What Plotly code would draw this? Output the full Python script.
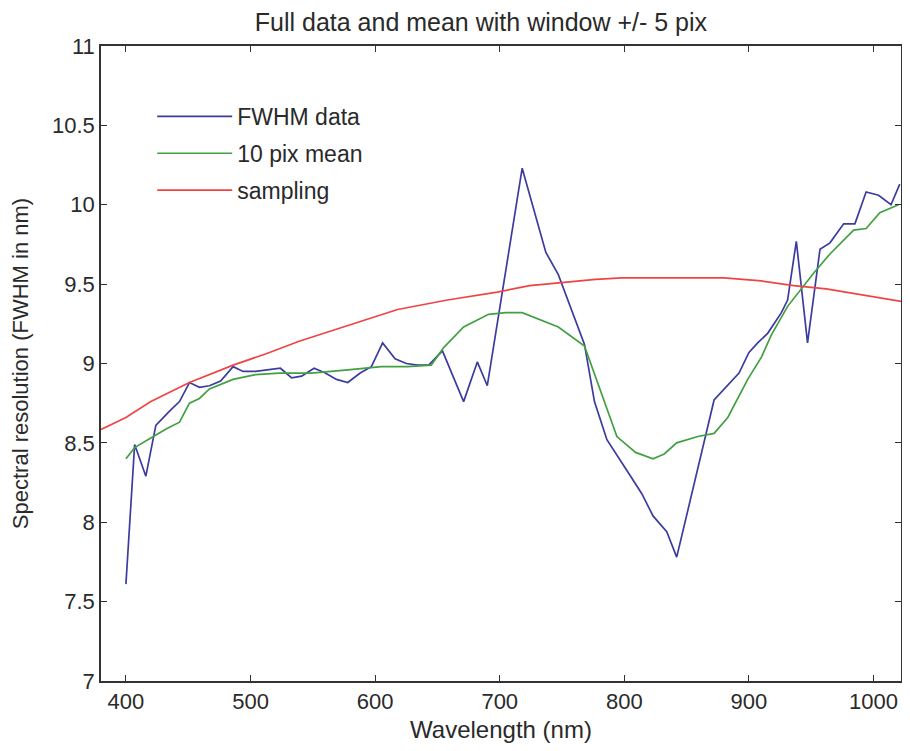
import plotly.graph_objects as go

fwhm_x = [400, 407, 416, 424, 435, 443, 451, 459, 467, 476, 486, 494, 504, 515, 524, 533, 541, 551, 560, 569,
          578, 588, 597, 606, 616, 625, 634, 643, 654, 671, 682, 690, 718, 737, 747, 768, 776, 786, 797, 805,
          814, 823, 834, 842, 872, 883, 892, 900, 907, 915, 926, 931, 938, 947, 957, 965, 976, 985, 994, 1004,
          1014, 1021]
fwhm_y = [7.61, 8.49, 8.29, 8.61, 8.70, 8.76, 8.88, 8.85, 8.86, 8.89, 8.98, 8.95, 8.95, 8.96, 8.97, 8.91, 8.92, 8.97, 8.94, 8.90,
          8.88, 8.94, 8.98, 9.13, 9.03, 9.00, 8.99, 8.99, 9.08, 8.76, 9.01, 8.86, 10.23, 9.70, 9.56, 9.12, 8.76, 8.52, 8.39, 8.29,
          8.18, 8.04, 7.94, 7.78, 8.77, 8.86, 8.94, 9.07, 9.13, 9.19, 9.32, 9.40, 9.77, 9.13, 9.72, 9.76, 9.88, 9.88, 10.08, 10.06,
          10.00, 10.13]

mean_x = [400, 407, 422, 433, 443, 451, 459, 467, 486, 504, 523, 549, 578, 605, 626, 645, 655, 671, 691, 705,
          718, 747, 768, 794, 809, 823, 832, 842, 859, 872, 883, 899, 910, 918, 931, 952, 965, 984, 994, 1005, 1020]
mean_y = [8.40, 8.47, 8.54, 8.59, 8.63, 8.75, 8.78, 8.84, 8.90, 8.93, 8.94, 8.94, 8.96, 8.98, 8.98, 8.99, 9.10, 9.23, 9.31, 9.32,
          9.32, 9.23, 9.11, 8.54, 8.44, 8.40, 8.43, 8.50, 8.54, 8.56, 8.66, 8.90, 9.04, 9.18, 9.36, 9.57, 9.69, 9.84, 9.85, 9.95, 10.00]

samp_x = [380, 400, 420, 451, 486, 512, 539, 578, 618, 658, 698, 724, 751, 777, 798, 880, 910, 936, 962, 984, 1002, 1023]
samp_y = [8.585, 8.66, 8.76, 8.88, 8.99, 9.06, 9.14, 9.24, 9.34, 9.40, 9.45, 9.49, 9.51, 9.53, 9.54, 9.54, 9.52, 9.49, 9.47, 9.44, 9.42, 9.39]

x_ticks = [400, 500, 600, 700, 800, 900, 1000]
y_ticks = [7, 7.5, 8, 8.5, 9, 9.5, 10, 10.5, 11]
y_tick_text = ["7", "7.5", "8", "8.5", "9", "9.5", "10", "10.5", "11"]

FONT = "Liberation Sans, Arial, Helvetica, sans-serif"
TXT = "#2a2a2a"
AX = "#333333"

fig = go.Figure()
fig.add_trace(go.Scatter(x=fwhm_x, y=fwhm_y, mode="lines", name="FWHM data", legendgroup="a",
                         line=dict(color="#3c3ca0", width=1.7)))
fig.add_trace(go.Scatter(x=mean_x, y=mean_y, mode="lines", name="10 pix mean", legendgroup="b",
                         line=dict(color="#42a042", width=1.7)))
fig.add_trace(go.Scatter(x=samp_x, y=samp_y, mode="lines", name="sampling", legendgroup="c",
                         line=dict(color="#f04444", width=1.7)))

# page body adds an 8px offset; figure is sized so it fits without scrollbars
fig.update_layout(
    width=894, height=735,
    margin=dict(l=93, r=1, t=38, b=62),
    paper_bgcolor="white", plot_bgcolor="white",
    font=dict(family=FONT, size=22, color=TXT),
    title=dict(text="Full data and mean with window +/- 5 pix", x=0.529, xanchor="center",
               y=0.98, yanchor="middle", font=dict(family=FONT, size=25, color=TXT)),
    showlegend=True,
    legend=dict(x=0.064, y=0.923, xanchor="left", yanchor="top", bgcolor="rgba(0,0,0,0)",
                borderwidth=0, font=dict(family=FONT, size=23, color=TXT),
                itemwidth=75, tracegroupgap=4),
    xaxis=dict(range=[380, 1022], tickmode="array", tickvals=x_ticks, automargin=False,
               ticks="inside", ticklen=6, tickcolor=AX, mirror="ticks",
               showline=True, linecolor=AX, linewidth=1.5, showgrid=False, zeroline=False,
               title=dict(text="Wavelength (nm)", standoff=8, font=dict(family=FONT, size=24, color=TXT)),
               tickfont=dict(family=FONT, size=22, color=TXT)),
    yaxis=dict(range=[7, 11], tickmode="array", tickvals=y_ticks, ticktext=y_tick_text, automargin=False,
               ticks="inside", ticklen=6, tickcolor=AX, mirror="ticks",
               showline=True, linecolor=AX, linewidth=1.5, showgrid=False, zeroline=False,
               title=dict(text="Spectral resolution (FWHM in nm)", standoff=17, font=dict(family=FONT, size=22, color=TXT)),
               tickfont=dict(family=FONT, size=22, color=TXT)),
)

fig.write_html("out.html")
